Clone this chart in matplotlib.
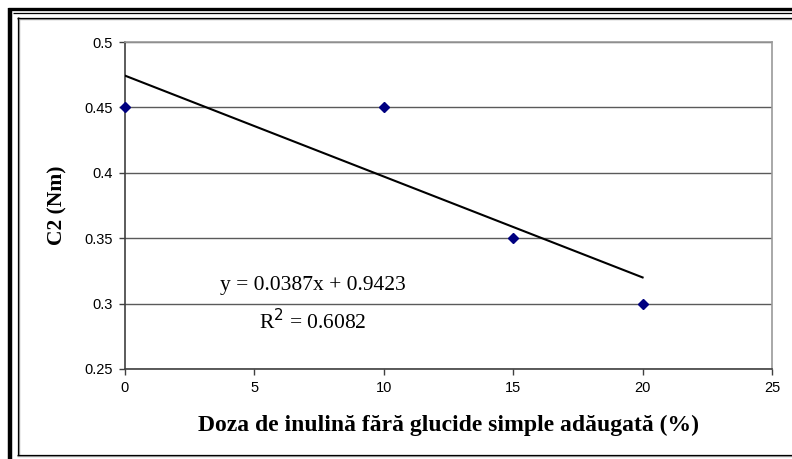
import matplotlib
matplotlib.use("Agg")
import matplotlib.pyplot as plt
from matplotlib.lines import Line2D
import numpy as np

plt.rcParams["font.family"] = ["Liberation Sans", "DejaVu Sans"]

# data
doza = [0, 10, 15, 20]
c2 = [0.45, 0.45, 0.35, 0.30]
x_ticks = [0, 5, 10, 15, 20, 25]
y_ticks = [0.25, 0.3, 0.35, 0.4, 0.45, 0.5]
y_tick_labels = ["0.25", "0.3", "0.35", "0.4", "0.45", "0.5"]
eq_text = "y = 0.0387x + 0.9423"
r2_text = "R$^2$ = 0.6082"
x_label = "Doza de inulină fără glucide simple adăugată (%)"
y_label = "C2 (Nm)"

W, H = 792, 459
fig = plt.figure(figsize=(W / 100, H / 100), dpi=100)
fig.patch.set_facecolor("white")


def px(x, y):
    return x / W, 1 - y / H


# plot area in pixel coords
left, top, right, bottom = 125, 42, 772, 369
x0, y0 = px(left, bottom)
ax = fig.add_axes([x0, y0, (right - left) / W, (bottom - top) / H])

ax.set_xlim(0, 25)
ax.set_ylim(0.25, 0.5)
ax.set_xticks(x_ticks)
ax.set_xticklabels([str(t) for t in x_ticks])
ax.set_yticks(y_ticks)
ax.set_yticklabels(y_tick_labels)
ax.yaxis.grid(True, color="#5a5a5a", linewidth=1.0)
ax.set_axisbelow(True)

for s in ["top", "right"]:
    ax.spines[s].set_color("#9a9a9a")
    ax.spines[s].set_linewidth(1.2)
for s in ["left", "bottom"]:
    ax.spines[s].set_color("#404040")
    ax.spines[s].set_linewidth(1.2)

ax.tick_params(direction="out", length=4, width=1, color="#404040",
               labelsize=10.5, pad=5)

# trend line (least squares fit of the points)
k, b = np.polyfit(doza, c2, 1)
xs = np.array([min(doza), max(doza)])
ax.plot(xs, k * xs + b, color="black", linewidth=1.5, zorder=3)

ax.plot(doza, c2, linestyle="none", marker="D", markersize=5,
        color="#000080", zorder=4, clip_on=False)

ax.text(7.27, 0.3142, eq_text, ha="center", va="center",
        fontsize=15.5, family="Liberation Serif")
ax.text(7.27, 0.2859, r2_text, ha="center", va="center",
        fontsize=15.5, family="Liberation Serif")

ax.set_xlabel(x_label, fontsize=17, fontweight="bold",
              family="Liberation Serif", labelpad=14)
ax.set_ylabel(y_label, fontsize=15.5, fontweight="bold",
              family="Liberation Serif", labelpad=12)


# outer frame
def hline(y, x1, x2, lw, color="black"):
    a, yy = px(x1, y)
    b2, _ = px(x2, y)
    fig.add_artist(Line2D([a, b2], [yy, yy], color=color, linewidth=lw,
                          solid_capstyle="butt"))


def vline(x, y1, y2, lw, color="black"):
    xx, a = px(x, y1)
    _, b2 = px(x, y2)
    fig.add_artist(Line2D([xx, xx], [a, b2], color=color, linewidth=lw,
                          solid_capstyle="butt"))


hline(9.0, 8, W, 2.4)
hline(12.5, 13, W, 0.9)
vline(10.0, 8, H, 3.2)
# inner frame with a light shadow
hline(18.5, 17, W, 1.0, "#a0a0a0")
vline(18.5, 17, 455, 1.0, "#a0a0a0")
hline(17.5, 17, W, 0.9)
vline(17.5, 17, 455, 0.9)
hline(455.5, 17, W, 1.0, "#a0a0a0")
hline(454.5, 17, W, 0.9)

fig.savefig("out.png", dpi=100)
